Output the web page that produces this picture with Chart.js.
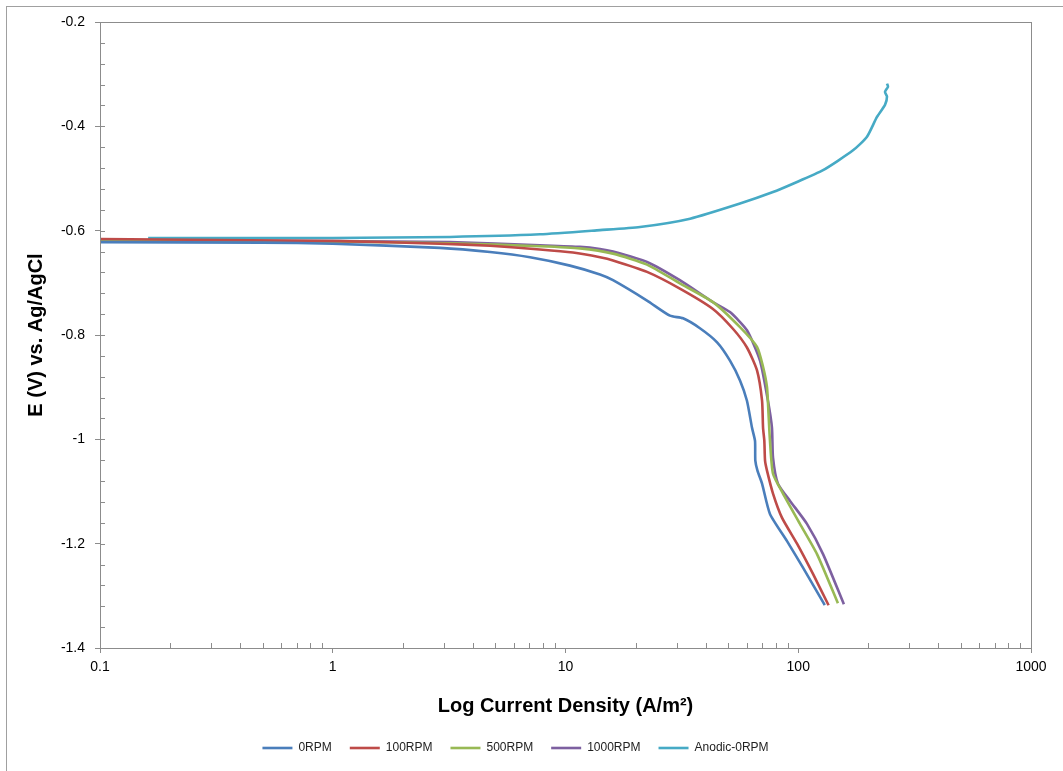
<!DOCTYPE html>
<html>
<head>
<meta charset="utf-8">
<script src="https://cdn.jsdelivr.net/npm/chart.js@4.4.1/dist/chart.umd.min.js"></script>
<style>
  html, body { margin: 0; padding: 0; background: #fff; }
  #wrap { position: relative; width: 1063px; height: 771px; }
  #frame { position: absolute; left: 6px; top: 6px; right: 0; bottom: 0;
           border-left: 1px solid #a0a0a0; border-top: 1px solid #a0a0a0; }
  canvas { position: absolute; left: 0; top: 0; }
</style>
</head>
<body>
<div id="wrap">
  <div id="frame"></div>
  <canvas id="polChart" width="1063" height="771"></canvas>
</div>
<script>
// series names and colours
var seriesNames = ['0RPM', '100RPM', '500RPM', '1000RPM', 'Anodic-0RPM'];
var seriesColors = ['#4A7EBB', '#BE4B48', '#98B954', '#7D60A0', '#46AAC5'];

// current density (A/m2) / potential (V vs Ag/AgCl)
var rpm0 = [
  [0.1, -0.622], [0.5, -0.623], [1, -0.625], [2.89, -0.633], [4.74, -0.641],
  [7.04, -0.651], [10.45, -0.667], [14.07, -0.684], [16, -0.695], [22.4, -0.734],
  [28.1, -0.763], [32, -0.768], [37.8, -0.787], [44.8, -0.814], [50.9, -0.849],
  [56.2, -0.887], [60.2, -0.926], [63.3, -0.978], [65.2, -1.003], [65.4, -1.041],
  [66.8, -1.06], [69.9, -1.085], [75.6, -1.143], [89.5, -1.195], [104.8, -1.246],
  [130, -1.318]
];
var rpm100 = [
  [0.1, -0.616], [1.07, -0.620], [2.89, -0.625], [4.74, -0.629], [7.77, -0.636],
  [10.77, -0.642], [14.07, -0.651], [16, -0.657], [22.4, -0.679], [31, -0.711],
  [43, -0.750], [52.4, -0.788], [60.2, -0.824], [66.5, -0.868], [69.9, -0.926],
  [70.6, -0.978], [71.5, -1.003], [72, -1.041], [73.4, -1.06], [77.9, -1.104],
  [85.1, -1.15], [98.8, -1.2], [115.7, -1.258], [135, -1.318]
];
var rpm500 = [
  [0.1, -0.619], [1, -0.621], [3.19, -0.624], [7.77, -0.630], [11.54, -0.634],
  [16, -0.644], [22.4, -0.665], [31, -0.701], [43, -0.737], [56.2, -0.785],
  [66.5, -0.823], [70.5, -0.86], [73.4, -0.9], [74.5, -0.95], [75.6, -1.003],
  [77.9, -1.066], [86, -1.104], [101.7, -1.162], [120.4, -1.22], [148, -1.314]
];
var rpm1000 = [
  [0.1, -0.619], [1, -0.620], [3.19, -0.622], [7.77, -0.628], [11.54, -0.631],
  [14.07, -0.635], [16, -0.640], [22.4, -0.660], [31, -0.695], [43, -0.737],
  [50.9, -0.756], [60.2, -0.791], [68.5, -0.849], [74.1, -0.926], [77.1, -0.978],
  [77.9, -1.035], [81.8, -1.085], [92.2, -1.118], [109, -1.162], [127.8, -1.22],
  [157, -1.316]
];
var anodic0 = [
  [0.161, -0.614], [1, -0.614], [3.19, -0.612], [7.77, -0.607], [14.07, -0.599],
  [20.9, -0.593], [34.3, -0.577], [56.2, -0.548], [77.9, -0.526], [94.9, -0.510],
  [127.8, -0.484], [171.9, -0.446], [197.4, -0.420], [217.9, -0.382], [235.9, -0.359],
  [240.6, -0.343], [235.9, -0.334], [243, -0.324], [240.6, -0.318]
];

// axis ticks
var xTicks = [0.1, 1, 10, 100, 1000];
var yTicks = [-1.4, -1.2, -1, -0.8, -0.6, -0.4, -0.2];

var allSeries = [rpm0, rpm100, rpm500, rpm1000, anodic0];

function toPoints(arr) {
  return arr.map(function (p) { return { x: p[0], y: p[1] }; });
}

var datasets = allSeries.map(function (arr, i) {
  return {
    label: seriesNames[i],
    data: toPoints(arr),
    borderColor: seriesColors[i],
    backgroundColor: seriesColors[i],
    borderWidth: 2.6,
    pointRadius: 0,
    showLine: true,
    tension: 0.2,
  };
});

var axisColor = '#8c8c8c';

// box around plot area plus the small inside ticks
var frameTicks = {
  id: 'frameTicks',
  afterDraw: function (chart) {
    var ctx = chart.ctx;
    var a = chart.chartArea;
    var xs = chart.scales.x, ys = chart.scales.y;
    ctx.save();
    ctx.strokeStyle = axisColor;
    ctx.lineWidth = 1;
    ctx.strokeRect(Math.round(a.left) + 0.5, Math.round(a.top) + 0.5,
      Math.round(a.right - a.left), Math.round(a.bottom - a.top));
    ctx.beginPath();
    // log minor ticks
    for (var d = 0.1; d < 1000; d *= 10) {
      for (var k = 2; k <= 9; k++) {
        var px = Math.round(xs.getPixelForValue(d * k)) + 0.5;
        ctx.moveTo(px, a.bottom);
        ctx.lineTo(px, a.bottom - 5);
      }
    }
    // minor y ticks every 0.04
    for (var j = 0; j <= 30; j++) {
      var v = -1.4 + j * 0.04;
      var py = Math.round(ys.getPixelForValue(v)) + 0.5;
      ctx.moveTo(a.left, py);
      ctx.lineTo(a.left + 5, py);
    }
    ctx.stroke();
    ctx.restore();
  }
};

var ctx = document.getElementById('polChart');

new Chart(ctx, {
  type: 'scatter',
  data: { datasets: datasets },
  plugins: [frameTicks],
  options: {
    responsive: false,
    animation: false,
    layout: { padding: { left: 0, right: 32, top: 22, bottom: 7 } },
    plugins: {
      tooltip: { enabled: false },
      legend: {
        position: 'bottom',
        labels: {
          usePointStyle: true,
          pointStyle: 'line',
          pointStyleWidth: 30,
          padding: 18,
          color: '#222',
          font: { family: 'Liberation Sans', size: 12 },
        },
      },
    },
    scales: {
      x: {
        type: 'logarithmic',
        min: 0.1,
        max: 1000,
        afterBuildTicks: function (scale) {
          scale.ticks = xTicks.map(function (v) { return { value: v }; });
        },
        afterFit: function (scale) { scale.height = 76; },
        ticks: {
          autoSkip: false,
          maxRotation: 0,
          color: '#000',
          font: { family: 'Liberation Sans', size: 14 },
          padding: 6,
          callback: function (v) { return String(v); },
        },
        grid: { drawOnChartArea: false, color: axisColor, tickLength: 5 },
        border: { color: axisColor },
        title: {
          display: true,
          text: 'Log Current Density (A/m²)',
          color: '#000',
          font: { family: 'Liberation Sans', size: 20, weight: 'bold' },
          padding: { top: 12, bottom: 6 },
        },
      },
      y: {
        type: 'linear',
        min: -1.4,
        max: -0.2,
        afterBuildTicks: function (scale) {
          scale.ticks = yTicks.map(function (v) { return { value: v }; });
        },
        afterFit: function (scale) { scale.width = 100; },
        ticks: {
          color: '#000',
          font: { family: 'Liberation Sans', size: 14 },
          padding: 10,
          callback: function (v) { return String(Math.round(v * 10) / 10); },
        },
        grid: { drawOnChartArea: false, color: axisColor, tickLength: 5 },
        border: { color: axisColor },
        title: {
          display: true,
          text: 'E (V) vs. Ag/AgCl',
          color: '#000',
          font: { family: 'Liberation Sans', size: 20, weight: 'bold' },
          padding: { top: 24, bottom: 0 },
        },
      },
    },
  },
});
</script>
</body>
</html>
